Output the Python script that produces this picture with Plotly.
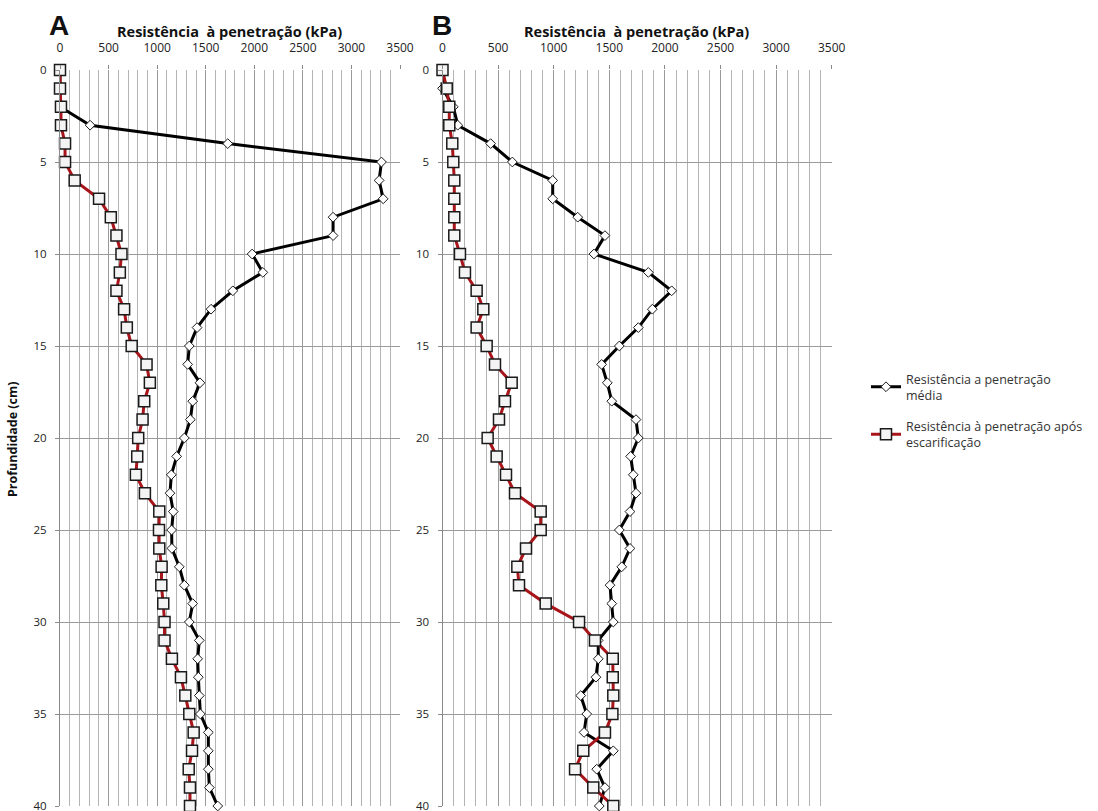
import plotly.graph_objects as go

depth = list(range(0, 41))

# Panel A
a_media = [0, 0, 0, 310, 1727, 3309, 3285, 3327, 2811, 2811,
           1978, 2088, 1779, 1555, 1411, 1331, 1314, 1441, 1366, 1342,
           1280, 1201, 1146, 1132, 1166, 1149, 1152, 1228, 1280, 1366,
           1331, 1434, 1417, 1424, 1434, 1445, 1527, 1527, 1527, 1538,
           1624]
a_escar = [0, 0, 10, 10, 52, 52, 151, 402, 523, 581,
           633, 616, 581, 660, 688, 738, 891, 925, 867, 850,
           805, 795, 781, 874, 1022, 1019, 1022, 1046, 1043, 1063,
           1076, 1076, 1152, 1245, 1290, 1331, 1376, 1359, 1325, 1338,
           1338]

# Panel B
b_media = [0, 0, 97, 137, 433, 628, 991, 991, 1216, 1461,
           1362, 1851, 2061, 1887, 1761, 1590, 1431, 1482, 1522, 1740,
           1761, 1692, 1716, 1740, 1686, 1590, 1686, 1612, 1506, 1522,
           1536, 1400, 1401, 1380, 1243, 1297, 1273, 1536, 1387, 1461,
           1410]
b_escar = [0, 38, 61, 61, 88, 97, 106, 106, 106, 106,
           157, 202, 307, 367, 307, 397, 472, 622, 562, 508,
           406, 487, 571, 652, 883, 883, 751, 673, 688, 928,
           1228, 1371, 1531, 1531, 1536, 1528, 1461, 1266, 1192, 1356,
           1536]

name_media = "Resistência a penetração<br>média"
name_escar = "Resistência à penetração após<br>escarificação"
x_title = "Resistência  à penetração (kPa)"
y_title = "Profundidade (cm)"

W, H = 1098, 811
FONT = "Open Sans"
BLACK = "#000000"
RED = "#A8151B"

fig = go.Figure()

for i, (med, esc) in enumerate([(a_media, a_escar), (b_media, b_escar)]):
    xa = "x" if i == 0 else "x2"
    ya = "y" if i == 0 else "y2"
    fig.add_trace(go.Scatter(
        x=med, y=depth, xaxis=xa, yaxis=ya, mode="lines+markers",
        name=name_media, legendrank=1, legendgroup="media", showlegend=(i == 0),
        line=dict(color=BLACK, width=3),
        marker=dict(symbol="diamond", size=7.5, color="white",
                    line=dict(color="#1a1a1a", width=1)),
        cliponaxis=False))
    fig.add_trace(go.Scatter(
        x=esc, y=depth, xaxis=xa, yaxis=ya, mode="lines+markers",
        name=name_escar, legendrank=2, legendgroup="escar", showlegend=(i == 0),
        line=dict(color=RED, width=3),
        marker=dict(symbol="square", size=11, color="#f4f4f4",
                    line=dict(color="#1a1a1a", width=1.5)),
        cliponaxis=False))

ytop, ybot = 70, 806
ydom = [1 - ybot / H, 1 - ytop / H]
xdomA = [60 / W, 400 / W]
xdomB = [442.5 / W, 831.7 / W]

def xaxis(dom, anchor):
    return dict(domain=dom, anchor=anchor, side="top", range=[0, 3500],
                tickvals=[0, 500, 1000, 1500, 2000, 2500, 3000, 3500],
                showgrid=True, gridcolor="#9a9a9a", gridwidth=1,
                minor=dict(dtick=100, showgrid=True, gridcolor="#b4b4b4", gridwidth=1,
                           ticks=""),
                ticks="outside", ticklen=4, tickcolor="#8a8a8a",
                ticklabelstandoff=8, ticklabeloverflow="allow",
                showline=False, zeroline=False, automargin=False,
                tickfont=dict(family=FONT, size=12, color="#222222"))

def yaxis(dom, anchor):
    return dict(domain=dom, anchor=anchor, range=[40, 0],
                tickvals=[0, 5, 10, 15, 20, 25, 30, 35, 40],
                showgrid=True, gridcolor="#9a9a9a", gridwidth=1,
                ticks="outside", ticklen=4, tickcolor="#8a8a8a",
                ticklabelstandoff=6, ticklabeloverflow="allow",
                showline=True, linecolor="#8a8a8a", linewidth=1,
                zeroline=False, automargin=False,
                tickfont=dict(family=FONT, size=11.5, color="#222222"))

def ann(text, x, y, size, family=FONT, angle=0):
    return dict(text=text, x=x / W, y=1 - y / H, xref="paper", yref="paper",
                xanchor="center", yanchor="middle", showarrow=False, textangle=angle,
                font=dict(family=family, size=size, color="#111111"))

fig.update_layout(
    width=W, height=H,
    margin=dict(l=0, r=0, t=0, b=0, autoexpand=False),
    paper_bgcolor="white", plot_bgcolor="white",
    xaxis=xaxis(xdomA, "y"),
    yaxis=yaxis(ydom, "x"),
    xaxis2=xaxis(xdomB, "y2"),
    yaxis2=yaxis(ydom, "x2"),
    showlegend=True,
    legend=dict(x=866 / W, y=1 - 364 / H, xanchor="left", yanchor="top",
                font=dict(family=FONT, size=12.5, color="#333333"),
                bgcolor="rgba(0,0,0,0)", tracegroupgap=12, itemwidth=30),
    annotations=[
        ann("<b>A</b>", 59, 25, 28, "Liberation Sans"),
        ann("<b>B</b>", 442, 25, 28, "Liberation Sans"),
        ann("<b>" + x_title + "</b>", 229, 31, 14.5),
        ann("<b>" + x_title + "</b>", 636, 31, 14.5),
        ann("<b>" + y_title + "</b>", 12, 440, 12.5, angle=-90),
    ],
)

fig.write_html("out.html", post_script="document.body.style.margin='0';",
               config={"displayModeBar": False})
